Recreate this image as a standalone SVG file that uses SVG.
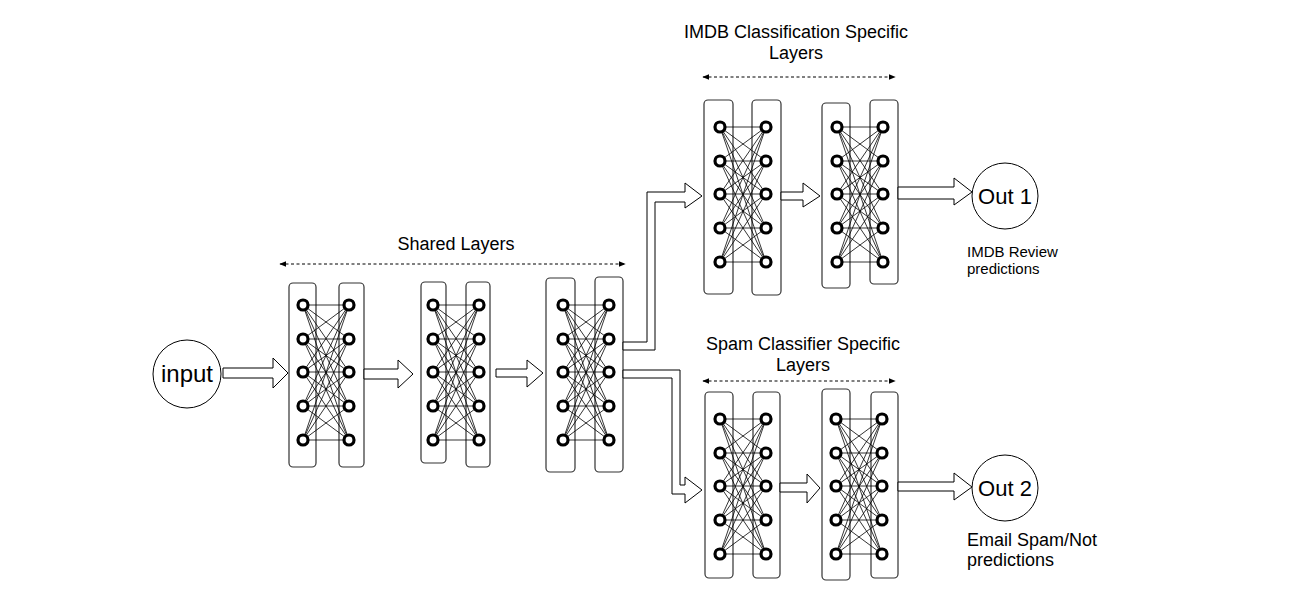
<svg xmlns="http://www.w3.org/2000/svg" xmlns:xlink="http://www.w3.org/1999/xlink" width="1305" height="597" viewBox="0 0 1305 597">
<style>
.bg{fill:#fff}
.col{fill:#fff;stroke:#333;stroke-width:1.2}
.node{fill:#fff;stroke:#000;stroke-width:3.2}
.wire{fill:none;stroke:#000;stroke-width:0.8}
.arr{fill:#fff;stroke:#000;stroke-width:1}
.circ{fill:#fff;stroke:#000;stroke-width:1}
.dash{fill:none;stroke:#000;stroke-width:1;stroke-dasharray:3 2.5}
text{font-family:"Liberation Sans",Arial,sans-serif;fill:#000}
.big{font-size:24px}
.out{font-size:22px}
.hd{font-size:18px;text-anchor:middle}
.note{font-size:15px}
.note2{font-size:18px}
</style>
<defs>
<marker id="ah" viewBox="0 0 10 10" refX="9" refY="5" markerWidth="7" markerHeight="7" orient="auto-start-reverse" markerUnits="userSpaceOnUse">
<path d="M0 1L10 5L0 9z" fill="#000"/>
</marker>
<g id="mesh">
<path class="wire" d="M0 0L46 0M0 0L46 34M0 0L46 67M0 0L46 101M0 0L46 135M0 34L46 0M0 34L46 34M0 34L46 67M0 34L46 101M0 34L46 135M0 67L46 0M0 67L46 34M0 67L46 67M0 67L46 101M0 67L46 135M0 101L46 0M0 101L46 34M0 101L46 67M0 101L46 101M0 101L46 135M0 135L46 0M0 135L46 34M0 135L46 67M0 135L46 101M0 135L46 135"/>
<circle class="node" cx="0" cy="0" r="5"/>
<circle class="node" cx="0" cy="34" r="5"/>
<circle class="node" cx="0" cy="67" r="5"/>
<circle class="node" cx="0" cy="101" r="5"/>
<circle class="node" cx="0" cy="135" r="5"/>
<circle class="node" cx="46" cy="0" r="5"/>
<circle class="node" cx="46" cy="34" r="5"/>
<circle class="node" cx="46" cy="67" r="5"/>
<circle class="node" cx="46" cy="101" r="5"/>
<circle class="node" cx="46" cy="135" r="5"/>
</g>
</defs>
<rect class="bg" x="0" y="0" width="1305" height="597"/>

<g id="input">
<circle class="circ" cx="187" cy="374" r="34"/>
<text class="big" x="187" y="382" text-anchor="middle">input</text>
</g>

<g id="shared1">
<rect class="col" x="289" y="283" width="27" height="184" rx="4"/>
<rect class="col" x="339" y="283" width="25" height="184" rx="4"/>
<use xlink:href="#mesh" x="303" y="305"/>
</g>
<g id="shared2">
<rect class="col" x="421" y="282" width="25" height="181" rx="4"/>
<rect class="col" x="466" y="282" width="24" height="185" rx="4"/>
<use xlink:href="#mesh" x="433" y="305"/>
</g>
<g id="shared3">
<rect class="col" x="546" y="278" width="29" height="194" rx="4"/>
<rect class="col" x="595" y="277" width="28" height="195" rx="4"/>
<use xlink:href="#mesh" x="563" y="305"/>
</g>

<g id="imdb1">
<rect class="col" x="704" y="100" width="29" height="194" rx="4"/>
<rect class="col" x="752" y="100" width="29" height="195" rx="4"/>
<use xlink:href="#mesh" x="720" y="127"/>
</g>
<g id="imdb2">
<rect class="col" x="822" y="103" width="28" height="185" rx="4"/>
<rect class="col" x="870" y="100" width="28" height="184" rx="4"/>
<use xlink:href="#mesh" x="837" y="127"/>
</g>

<g id="spam1">
<rect class="col" x="705" y="392" width="28" height="186" rx="4"/>
<rect class="col" x="753" y="392" width="27" height="186" rx="4"/>
<use xlink:href="#mesh" x="720" y="419"/>
</g>
<g id="spam2">
<rect class="col" x="822" y="389" width="28" height="191" rx="4"/>
<rect class="col" x="871" y="392" width="27" height="186" rx="4"/>
<use xlink:href="#mesh" x="836" y="419"/>
</g>

<g id="out1">
<circle class="circ" cx="1005" cy="196" r="33"/>
<text class="out" x="1005" y="204" text-anchor="middle">Out 1</text>
</g>
<g id="out2">
<circle class="circ" cx="1005" cy="488" r="33"/>
<text class="out" x="1005" y="496" text-anchor="middle">Out 2</text>
</g>

<g id="connectors">
<polygon class="arr" points="223,368 273,368 273,358 288,373 273,388 273,378 223,378"/>
<polygon class="arr" points="364,369 398,369 398,360 413,374 398,388 398,379 364,379"/>
<polygon class="arr" points="496,369 527,369 527,360 543,373 527,387 527,377 496,377"/>
<polygon class="arr" points="623,342 647,342 647,192 685,192 685,183 702,196 685,208 685,202 655,202 655,350 623,350"/>
<polygon class="arr" points="623,370 680,370 680,485 685,485 685,477 702,490 685,503 685,494 672,494 672,378 623,378"/>
<polygon class="arr" points="781,192 803,192 803,183 820,196 803,207 803,200 781,200"/>
<polygon class="arr" points="898,187 954,187 954,178 972,192 954,205 954,199 898,199"/>
<polygon class="arr" points="780,483 807,483 807,474 820,488 807,503 807,492 780,492"/>
<polygon class="arr" points="898,482 954,482 954,473 972,487 954,500 954,491 898,491"/>
<line class="dash" x1="280" y1="264" x2="625" y2="264" marker-start="url(#ah)" marker-end="url(#ah)"/>
<line class="dash" x1="703" y1="77" x2="895" y2="77" marker-start="url(#ah)" marker-end="url(#ah)"/>
<line class="dash" x1="703" y1="381" x2="895" y2="381" marker-start="url(#ah)" marker-end="url(#ah)"/>
</g>

<g id="labels">
<text class="hd" x="456" y="250">Shared Layers</text>
<text class="hd" x="796" y="38">IMDB Classification Specific</text>
<text class="hd" x="796" y="59">Layers</text>
<text class="hd" x="803" y="350">Spam Classifier Specific</text>
<text class="hd" x="803" y="371">Layers</text>
<text class="note" x="967" y="257">IMDB Review</text>
<text class="note" x="967" y="274">predictions</text>
<text class="note2" x="967" y="546">Email Spam/Not</text>
<text class="note2" x="967" y="566">predictions</text>
</g>
</svg>
